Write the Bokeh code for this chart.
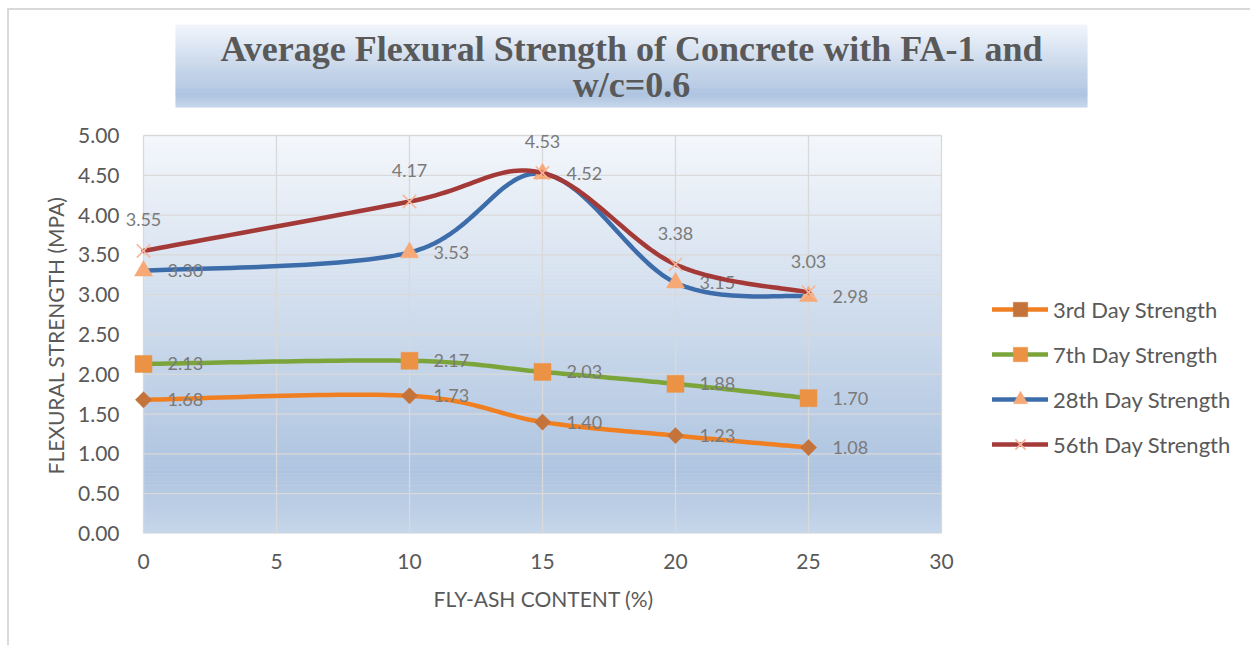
import numpy as np
from bokeh.plotting import figure
from bokeh.models import (Legend, LegendItem, Label, FixedTicker, Range1d, ColumnDataSource,
                          InlineStyleSheet, Title)
from bokeh.core.properties import value
from bokeh.embed import file_html
from bokeh.resources import INLINE

# ---------------- data ----------------
fly_ash = [0, 10, 15, 20, 25]
day3 = [1.68, 1.73, 1.40, 1.23, 1.08]
day7 = [2.13, 2.17, 2.03, 1.88, 1.70]
day28 = [3.30, 3.53, 4.52, 3.15, 2.98]
day56 = [3.55, 4.17, 4.53, 3.38, 3.03]
series_names = ["3rd Day Strength", "7th Day Strength", "28th Day Strength", "56th Day Strength"]
x_ticks = [0, 5, 10, 15, 20, 25, 30]
y_ticks = [0.0, 0.5, 1.0, 1.5, 2.0, 2.5, 3.0, 3.5, 4.0, 4.5, 5.0]
title_lines = ["Average Flexural Strength of Concrete with FA-1 and", "w/c=0.6"]
x_title = "FLY-ASH CONTENT (%)"
y_title = "FLEXURAL  STRENGTH (MPA)"

# ---------------- layout constants ----------------
W, H = 1250, 645
PL, PR, PT, PB = 143, 941, 135, 533      # plot area (pixels)
XMAX, YMAX = 30, 5
FRAME_L = 122                            # frame extends beyond plot area


def dx(px):
    return (px - PL) / (PR - PL) * XMAX


def dy(py):
    return (PB - py) / (PB - PT) * YMAX


def hex2rgb(h):
    h = h.lstrip("#")
    return [int(h[i:i + 2], 16) for i in (0, 2, 4)]


def grad(stops, f):
    for (f0, c0), (f1, c1) in zip(stops[:-1], stops[1:]):
        if f0 <= f <= f1:
            t = (f - f0) / (f1 - f0) if f1 > f0 else 0
            a, b = hex2rgb(c0), hex2rgb(c1)
            return "#%02x%02x%02x" % tuple(int(round(a[i] + (b[i] - a[i]) * t)) for i in range(3))
    return stops[-1][1]


def smooth(xs, ys, n=30):
    pts = [np.array([x, y], dtype=float) for x, y in zip(xs, ys)]
    ox, oy = [], []
    for i in range(len(pts) - 1):
        p0 = pts[i - 1] if i > 0 else pts[i]
        p1, p2 = pts[i], pts[i + 1]
        p3 = pts[i + 2] if i + 2 < len(pts) else pts[i + 1]
        c1 = p1 + (p2 - p0) / 6.0
        c2 = p2 - (p3 - p1) / 6.0
        ts = np.linspace(0, 1, n)
        if i > 0:
            ts = ts[1:]
        for t in ts:
            q = ((1 - t) ** 3) * p1 + 3 * ((1 - t) ** 2) * t * c1 + 3 * (1 - t) * t * t * c2 + (t ** 3) * p2
            ox.append(q[0])
            oy.append(q[1])
    return ox, oy


p = figure(width=W, height=H, x_range=Range1d(dx(FRAME_L), dx(W)), y_range=Range1d(0, dy(0)),
           output_backend="svg", toolbar_location=None,
           min_border_left=FRAME_L, min_border_right=0, min_border_top=0, min_border_bottom=H - PB)
p.background_fill_color = "#ffffff"
p.border_fill_color = "#ffffff"
p.outline_line_color = None
p.xgrid.visible = False
p.ygrid.visible = False

# outer chart border (left and top edges) drawn with CSS
p.stylesheets = [InlineStyleSheet(css=(
    ":host{position:relative;}"
    ":host::after{content:'';position:absolute;left:7px;top:8px;width:%dpx;height:%dpx;"
    "border-left:2px solid #d9d9d9;border-top:2px solid #d9d9d9;box-sizing:border-box;"
    "pointer-events:none;z-index:10;}" % (W - 7, H - 8)))]

# plot area gradient
bg_stops = [(0.0, "#F4F7FB"), (0.85, "#AEC4E0"), (1.0, "#C6D6EA")]
nstr = 100
edges = np.linspace(PT, PB, nstr + 1)
p.quad(left=0, right=XMAX,
       top=[dy(edges[i] - 0.6) if i > 0 else dy(edges[i]) for i in range(nstr)],
       bottom=[dy(edges[i + 1]) for i in range(nstr)],
       fill_color=[grad(bg_stops, (i + 0.5) / nstr) for i in range(nstr)],
       line_color=None, level="image")

# title box gradient
tb_stops = [(0.0, "#F2F6FB"), (0.85, "#AEC4E0"), (1.0, "#C6D6EA")]
TL, TR, TT, TBm = 175, 1087, 24, 107
nt = 42
tedges = np.linspace(TT, TBm, nt + 1)
p.quad(left=dx(TL), right=dx(TR),
       top=[dy(tedges[i] - 0.6) if i > 0 else dy(tedges[i]) for i in range(nt)],
       bottom=[dy(tedges[i + 1]) for i in range(nt)],
       fill_color=[grad(tb_stops, (i + 0.5) / nt) for i in range(nt)],
       line_color=None, level="image")

for line, ypix in zip(title_lines, [48, 84]):
    p.add_layout(Label(x=dx(631), y=dy(ypix), text=line, text_align="center", text_baseline="middle",
                       text_font="Liberation Serif", text_font_style="bold", text_font_size="36px",
                       text_color="#595959"))

# grid lines limited to the plot area
p.segment(x0=x_ticks, x1=x_ticks, y0=0, y1=YMAX, line_color="#D9D9D9", line_width=1.3, level="underlay")
p.segment(x0=0, x1=XMAX, y0=y_ticks, y1=y_ticks, line_color="#D9D9D9", line_width=1.3, level="underlay")

# axes
p.xaxis.ticker = FixedTicker(ticks=x_ticks)
p.yaxis.ticker = FixedTicker(ticks=y_ticks)
p.yaxis.major_label_overrides = {t: "%.2f" % t for t in y_ticks}
p.xaxis.major_label_overrides = {t: str(t) for t in x_ticks}
for ax in (p.xaxis, p.yaxis):
    ax.axis_line_color = None
    ax.major_tick_line_color = None
    ax.minor_tick_line_color = None
    ax.major_tick_out = 0
    ax.major_tick_in = 0
    ax.major_label_text_font = "Lato"
    ax.major_label_text_font_size = "21px"
    ax.major_label_text_color = "#595959"
p.yaxis.major_label_standoff = 3
p.xaxis.major_label_standoff = 20

# axis titles as panel titles, placed along the plot area via offset
XT_W, YT_W = 218, 280   # approximate rendered text lengths
p.add_layout(Title(text=x_title, align="left", offset=(PL + PR) / 2.0 - XT_W / 2.0 - FRAME_L,
                   standoff=25, text_font="Lato", text_font_size="21px", text_font_style="normal",
                   text_color="#595959"), "below")
p.add_layout(Title(text=y_title, align="left", offset=PB - ((PT + PB) / 2.0 + YT_W / 2.0),
                   standoff=15, text_font="Lato", text_font_size="21px", text_font_style="normal",
                   text_color="#595959"), "left")

# series
series = [day3, day7, day28, day56]
line_colors = ["#F07F22", "#7BA43B", "#3D6CAB", "#A33A38"]
markers = ["square", "square", "triangle", "x"]
m_sizes = [11.5, 17, 18, 19]
m_angles = [np.pi / 4, 0, 0, 0]
m_fill = ["#C4733A", "#EC9244", "#F6A976", "#F8B699"]
lab_pos = ["right", "right", "right", "above"]

items = []
for name, ys, lc, mk, ms, ma, mf, lp in zip(series_names, series, line_colors, markers,
                                             m_sizes, m_angles, m_fill, lab_pos):
    sx, sy = smooth(fly_ash, ys)
    lr = p.line(sx, sy, line_color=lc, line_width=4.5, line_cap="round", line_join="round")
    if mk == "x":
        sr = p.scatter(fly_ash, ys, marker=mk, size=ms, line_color=mf, line_width=1.6, fill_color=None)
    else:
        sr = p.scatter(fly_ash, ys, marker=mk, size=ms, angle=ma, fill_color=mf, line_color=mf,
                       line_width=0.5)
    src = ColumnDataSource(dict(x=fly_ash, y=ys, t=["%.2f" % v for v in ys]))
    if lp == "right":
        p.text(x="x", y="y", text="t", source=src, x_offset=24, y_offset=0,
               text_align="left", text_baseline="middle", text_font=value("Lato"),
               text_font_size="18px", text_color="#7A7A7A")
    else:
        p.text(x="x", y="y", text="t", source=src, x_offset=0, y_offset=-31,
               text_align="center", text_baseline="middle", text_font=value("Lato"),
               text_font_size="18px", text_color="#7A7A7A")
    items.append(LegendItem(label=name, renderers=[lr, sr]))

GH = 36
legend = Legend(items=items, location=(992 - FRAME_L, PB - (444 + GH / 2.0)), orientation="vertical",
                glyph_width=56, glyph_height=GH, label_height=GH, spacing=45 - GH,
                padding=0, margin=0, border_line_color=None, background_fill_alpha=0,
                label_text_font="Lato", label_text_font_size="22px", label_text_color="#595959",
                label_standoff=5)
p.add_layout(legend)

open("out.html", "w").write(file_html(p, INLINE))
